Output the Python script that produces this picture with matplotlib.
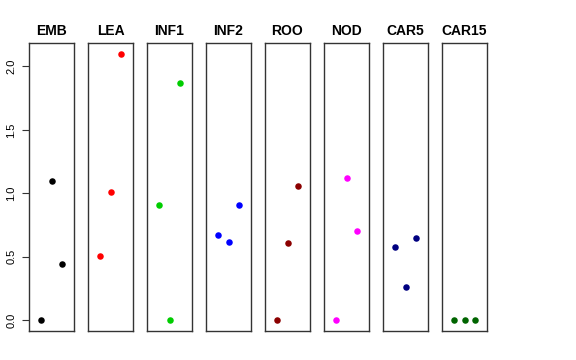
import matplotlib
matplotlib.use("Agg")
import matplotlib.pyplot as plt

plt.rcParams["font.family"] = ["Liberation Sans", "DejaVu Sans"]

# panel names, colours and the three values per panel
GROUPS = ["EMB", "LEA", "INF1", "INF2", "ROO", "NOD", "CAR5", "CAR15"]
COLORS = ["black", "#FF0000", "#00CD00", "#0000FF", "#8B0000", "#FF00FF", "#000080", "#006400"]
VALUES = [
    [0.0, 1.10, 0.44],
    [0.51, 1.01, 2.10],
    [0.91, 0.0, 1.87],
    [0.67, 0.62, 0.91],
    [0.0, 0.61, 1.055],
    [0.0, 1.12, 0.70],
    [0.575, 0.26, 0.645],
    [0.0, 0.0, 0.0],
]
X = [1, 2, 3]
YTICKS = [0.0, 0.5, 1.0, 1.5, 2.0]

W, H = 576, 360
fig = plt.figure(figsize=(W / 100, H / 100), dpi=100)

left0 = 29
pw = 45
step = 59
top, bottom = 43, 331
ymax = 2.1
pad = ymax * 0.04

for i, name in enumerate(GROUPS):
    ax = fig.add_axes([(left0 + i * step) / W, (H - bottom) / H, pw / W, (bottom - top) / H])
    ax.scatter(X, VALUES[i], color=COLORS[i], s=22, zorder=3, linewidths=0)
    ax.set_xlim(-0.1, 4.1)
    ax.set_ylim(-pad, ymax + pad)
    ax.set_xticks([])
    for sp in ax.spines.values():
        sp.set_color("#333333")
        sp.set_linewidth(1)
    ax.set_title(name, fontsize=10, fontweight="bold", pad=6)
    if i == 0:
        ax.set_yticks(YTICKS)
        ax.set_yticklabels(["%.1f" % t for t in YTICKS], rotation=90, va="center", fontsize=8)
        ax.tick_params(axis="y", length=5, width=0.8, pad=4, color="#333333")
    else:
        ax.set_yticks([])

fig.savefig("out.png", dpi=100)
